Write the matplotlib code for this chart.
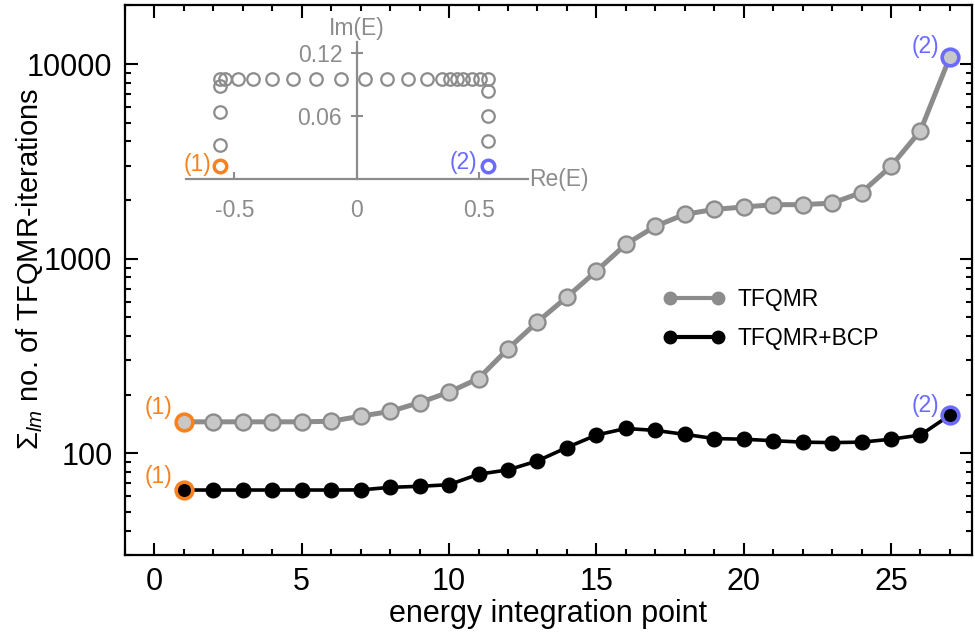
import matplotlib
matplotlib.use("Agg")
import matplotlib.pyplot as plt
from matplotlib.lines import Line2D
from matplotlib.ticker import FuncFormatter, NullFormatter, MultipleLocator, LogLocator

plt.rcParams["font.family"] = ["Liberation Sans", "DejaVu Sans"]
plt.rcParams["mathtext.fontset"] = "custom"
plt.rcParams["mathtext.rm"] = "Liberation Sans"
plt.rcParams["mathtext.it"] = "Liberation Sans:italic"

# energy integration points and summed iteration counts
points = list(range(1, 28))
tfqmr = [145, 145, 145, 145, 145, 146, 155, 164, 182, 206, 242, 344, 473, 635,
         863, 1186, 1466, 1689, 1791, 1842, 1893, 1895, 1928, 2187, 2983, 4540, 10870]
tfqmr_bcp = [64.7, 64.7, 64.7, 64.7, 64.7, 64.7, 64.8, 66.8, 67.6, 68.9, 78, 82.1, 91.3, 107,
             124, 134, 131, 125, 119, 118, 116, 114, 113.4, 114, 118, 124, 157]

# contour in the complex energy plane (inset)
re_e = [-0.559, -0.559, -0.559, -0.559,
        -0.559, -0.538, -0.484, -0.423, -0.348, -0.259, -0.168, -0.065, 0.034, 0.125,
        0.210, 0.288, 0.347, 0.381, 0.409, 0.436, 0.470, 0.504, 0.538,
        0.538, 0.538, 0.538, 0.538]
im_e = [0.0126, 0.0325, 0.064, 0.0885,
        0.095, 0.095, 0.095, 0.095, 0.095, 0.095, 0.095, 0.095, 0.095, 0.095,
        0.095, 0.095, 0.095, 0.095, 0.095, 0.095, 0.095, 0.095, 0.095,
        0.084, 0.060, 0.0366, 0.0126]

GRAY = "#8c8c8c"
LIGHT = "#c8c8c8"
ORANGE = "#f7821f"
BLUE = "#6b6bff"
FS = 22
SMALL = 16.5

fig = plt.figure(figsize=(9.75, 6.36), dpi=100)
ax = fig.add_axes([0.1282, 0.1274, 0.8687, 0.864])

ax.plot(points, tfqmr, "-o", color=GRAY, lw=3.6, ms=11.5, mfc=LIGHT, mec=GRAY, mew=1.7, zorder=3)
ax.plot(points, tfqmr_bcp, "-o", color="black", lw=2.6, ms=10.5, mfc="black", mec="black", zorder=3)

# highlight end points (1) and (2)
for ys, fc in ((tfqmr, LIGHT), (tfqmr_bcp, "black")):
    ax.plot(points[0], ys[0], "o", ms=12, mfc=fc, mec=ORANGE, mew=2.6, zorder=4)
    ax.plot(points[-1], ys[-1], "o", ms=12, mfc=fc, mec=BLUE, mew=2.6, zorder=4)
    ax.annotate("(1)", (points[0], ys[0]), xytext=(-25, 14), textcoords="offset pixels",
                ha="center", va="center", color=ORANGE, fontsize=SMALL)
    ax.annotate("(2)", (points[-1], ys[-1]), xytext=(-24, 10), textcoords="offset pixels",
                ha="center", va="center", color=BLUE, fontsize=SMALL)

ax.set_yscale("log")
ax.set_xlim(-1, 27.75)
ax.set_ylim(30, 20000)
ax.xaxis.set_major_locator(MultipleLocator(5))
ax.xaxis.set_minor_locator(MultipleLocator(1))
ax.yaxis.set_major_locator(LogLocator(base=10))
ax.yaxis.set_minor_locator(LogLocator(base=10, subs=range(2, 10)))
ax.yaxis.set_major_formatter(FuncFormatter(lambda v, p: f"{v:g}"))
ax.yaxis.set_minor_formatter(NullFormatter())
ax.tick_params(which="both", direction="in", top=True, right=True, width=1.5, labelsize=FS)
ax.tick_params(which="major", length=9)
ax.tick_params(which="minor", length=4.5)
ax.tick_params(axis="x", pad=9)
ax.tick_params(axis="y", pad=9)
for s in ax.spines.values():
    s.set_linewidth(1.6)

ax.set_xlabel("energy integration point", fontsize=FS, labelpad=1)
ax.set_ylabel(r"$\Sigma_{lm}$" + " no. of TFQMR-iterations", fontsize=21)
ax.yaxis.set_label_coords(-0.095, 0.52)

handles = [Line2D([], [], color=GRAY, lw=3, marker="o", ms=9, mfc=GRAY, mec=GRAY),
           Line2D([], [], color="black", lw=3, marker="o", ms=9, mfc="black", mec="black")]
ax.legend(handles, ["TFQMR", "TFQMR+BCP"], loc="upper left", bbox_to_anchor=(0.635, 0.486),
          frameon=False, fontsize=SMALL, numpoints=2, handlelength=2.7, handletextpad=0.55,
          labelspacing=0.72, borderpad=0, borderaxespad=0)

# inset: integration contour
ins = fig.add_axes([0.1903, 0.7181, 0.3512, 0.2157])
ins.patch.set_alpha(0)
ins.plot(re_e, im_e, "o", ls="none", ms=9, mfc="none", mec=GRAY, mew=1.6)
ins.plot(re_e[0], im_e[0], "o", ms=9, mfc="none", mec=ORANGE, mew=2.5)
ins.plot(re_e[-1], im_e[-1], "o", ms=9, mfc="none", mec=BLUE, mew=2.5)
ins.annotate("(1)", (re_e[0], im_e[0]), xytext=(-23, 1), textcoords="offset pixels",
             ha="center", va="center", color=ORANGE, fontsize=SMALL)
ins.annotate("(2)", (re_e[-1], im_e[-1]), xytext=(-25, 3), textcoords="offset pixels",
             ha="center", va="center", color=BLUE, fontsize=SMALL)
ins.set_xlim(-0.7, 0.7)
ins.set_ylim(0, 0.13)
ins.spines["top"].set_visible(False)
ins.spines["right"].set_visible(False)
ins.spines["left"].set_position(("data", 0))
for s in ("left", "bottom"):
    ins.spines[s].set_color(GRAY)
    ins.spines[s].set_linewidth(1.6)
ins.set_xticks([-0.5, 0, 0.5])
ins.set_xticklabels(["-0.5", "0", "0.5"])
ins.set_yticks([0.06, 0.12])
ins.set_yticklabels(["0.06", "0.12"])
ins.tick_params(colors=GRAY, labelcolor=GRAY, labelsize=SMALL, width=1.5)
ins.tick_params(axis="x", direction="in", length=5, pad=14)
ins.tick_params(axis="y", direction="inout", length=9, pad=6)
ins.text(0.705, 0, "Re(E)", ha="left", va="center", color=GRAY, fontsize=SMALL)
ins.text(0, 0.132, "Im(E)", ha="center", va="bottom", color=GRAY, fontsize=SMALL,
         transform=ins.transData)

fig.savefig("out.png", dpi=100)
